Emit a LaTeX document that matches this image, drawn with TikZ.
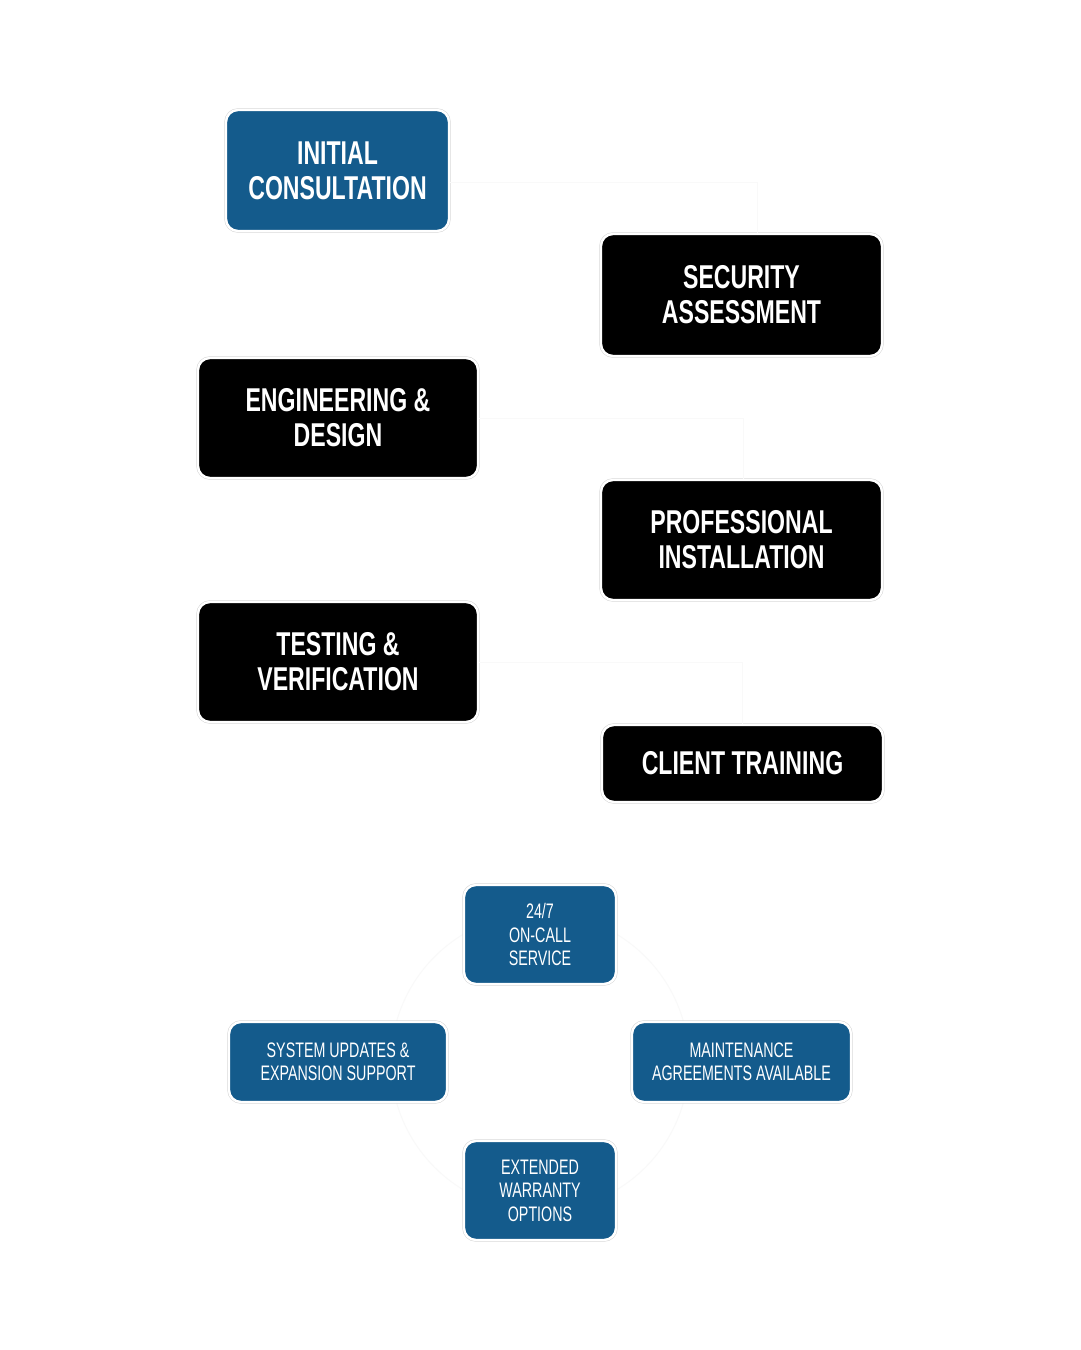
\documentclass[tikz,border=0pt]{standalone}
\usepackage{fontspec}
\newfontfamily\condb{Liberation Sans}[FakeStretch=0.70]
\newfontfamily\condr{Liberation Sans}[FakeStretch=0.68]
\definecolor{brandblue}{RGB}{20,91,140}
\definecolor{faint}{RGB}{249,249,249}
\begin{document}
\begin{tikzpicture}[x=1pt,y=-1pt,
  box/.style={rectangle, rounded corners=12pt, inner sep=0pt, align=center,
    text=white, draw=white, line width=2.4pt,
    preaction={draw=black!17, line width=3.4pt}},
  bigbox/.style={box, font={\condb\bfseries\fontsize{33}{35}\selectfont}},
  smallbox/.style={box, fill=brandblue, font={\condr\fontsize{21}{23.5}\selectfont}},
  link/.style={draw=faint, line width=1pt}]
\useasboundingbox (0,0) rectangle (1080,1350);
\fill[white] (0,0) rectangle (1080,1350);

% faint cycle ring
\draw[link] (540,1062) circle[radius=149];

\node[bigbox, fill=brandblue, minimum width=223pt, minimum height=121pt] (ic) at (337.5,170.5) {INITIAL\\CONSULTATION};
\node[bigbox, fill=black, minimum width=281pt, minimum height=122pt] (sa) at (741.5,295) {SECURITY\\ASSESSMENT};
\node[bigbox, fill=black, minimum width=280pt, minimum height=120pt] (ed) at (338,418) {ENGINEERING \&\\DESIGN};
\node[bigbox, fill=black, minimum width=281pt, minimum height=120pt] (pi) at (741.5,540) {PROFESSIONAL\\INSTALLATION};
\node[bigbox, fill=black, minimum width=280pt, minimum height=120pt] (tv) at (338,662) {TESTING \&\\VERIFICATION};
\node[bigbox, fill=black, minimum width=281pt, minimum height=77pt] (ct) at (742.5,763.5) {CLIENT TRAINING};

\node[smallbox, minimum width=152pt, minimum height=99pt] (oc) at (540,934.5) {24/7\\ON-CALL\\SERVICE};
\node[smallbox, minimum width=218pt, minimum height=80pt] (su) at (338,1062) {SYSTEM UPDATES \&\\EXPANSION SUPPORT};
\node[smallbox, minimum width=219pt, minimum height=80pt] (ma) at (741.5,1062) {MAINTENANCE\\AGREEMENTS AVAILABLE};
\node[smallbox, minimum width=152pt, minimum height=99pt] (ew) at (540,1190.5) {EXTENDED\\WARRANTY\\OPTIONS};

\node[text=white, align=center, font={\condb\bfseries\fontsize{34}{36}\selectfont}] (os) at (540,1062) {ONGOING\\SUPPORT};

% faint connectors
\draw[link] ([yshift=-12pt]ic.east) -| ([xshift=16pt]sa.north);
\draw[link] (ed.east) -| ([xshift=2pt]pi.north);
\draw[link] (tv.east) -| (ct.north);
\end{tikzpicture}
\end{document}
